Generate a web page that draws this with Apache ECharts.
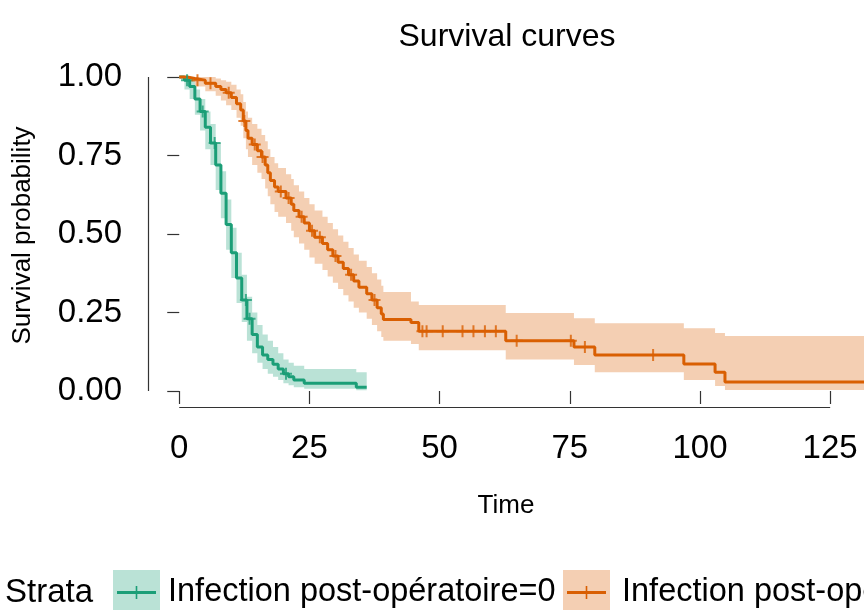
<!DOCTYPE html>
<html>
<head>
<meta charset="utf-8">
<script src="https://cdn.jsdelivr.net/npm/echarts@6/dist/echarts.min.js"></script>
<style>
html,body{margin:0;padding:0;background:#fff;}
#chart{width:864px;height:610px;}
</style>
</head>
<body>
<div id="chart"></div>
<script>
// ---- data ----
const greenTime  = [0,1,2,3,4,5,6,7,8,9,10,11,12,13,14,15,16,17,18,19,20,21,22,24,34,36];
const greenSurv  = [1,0.99,0.97,0.93,0.89,0.84,0.79,0.72,0.63,0.53,0.44,0.36,0.29,0.23,0.18,0.14,0.115,0.10,0.085,0.07,0.055,0.045,0.035,0.025,0.012,0.012];
const greenLower = [1,0.96,0.93,0.88,0.83,0.77,0.72,0.64,0.55,0.45,0.36,0.28,0.22,0.16,0.12,0.09,0.07,0.055,0.045,0.035,0.025,0.018,0.012,0.007,0.002,0.002];
const greenUpper = [1,1,0.99,0.96,0.93,0.89,0.85,0.79,0.70,0.61,0.52,0.44,0.37,0.30,0.25,0.21,0.18,0.16,0.14,0.12,0.10,0.09,0.08,0.07,0.06,0.06];
const greenCensor = [1.5,4.5,6.8,12.8,13.5,20.5];

const orangeTime  = [0,1.5,3,5,7,8,9,10,11,11.8,12.3,12.8,13.2,14,15,15.8,16.5,17,17.5,18.3,19,20.5,21.5,22,23,24,25,26,27.5,28.5,29.5,30.5,31.5,32.5,33.5,34.5,36,37,38,38.8,39.2,44.5,46,62.7,75.8,79.8,96.9,102.9,104.8,132];
const orangeSurv  = [1,0.995,0.99,0.98,0.97,0.96,0.95,0.935,0.915,0.895,0.86,0.83,0.805,0.785,0.765,0.745,0.72,0.695,0.67,0.65,0.635,0.615,0.595,0.575,0.555,0.535,0.51,0.49,0.47,0.45,0.43,0.41,0.39,0.37,0.35,0.33,0.31,0.29,0.265,0.245,0.228,0.218,0.19,0.16,0.14,0.115,0.086,0.06,0.029,0.029];
const orangeLower = [1,0.985,0.97,0.955,0.94,0.925,0.91,0.895,0.87,0.845,0.805,0.77,0.745,0.72,0.695,0.675,0.645,0.62,0.595,0.57,0.555,0.535,0.51,0.49,0.47,0.45,0.425,0.405,0.385,0.365,0.345,0.325,0.305,0.285,0.265,0.25,0.23,0.21,0.19,0.172,0.16,0.15,0.13,0.10,0.083,0.06,0.035,0.016,0.003,0.003];
const orangeUpper = [1,1,1,1,0.995,0.99,0.985,0.975,0.96,0.945,0.92,0.89,0.87,0.85,0.835,0.815,0.795,0.77,0.745,0.725,0.71,0.69,0.675,0.655,0.635,0.615,0.595,0.575,0.555,0.535,0.515,0.495,0.475,0.455,0.435,0.415,0.395,0.375,0.355,0.335,0.315,0.285,0.274,0.248,0.232,0.216,0.20,0.185,0.175,0.175];
const orangeCensor = [3.5,6,9.5,12.5,14.5,16,19.5,21,23.5,25.5,27,30,33,37.5,46.7,47.5,50.6,54.4,56.5,58.7,60.8,64.8,75.2,77.9,91];

const xTicks = [0,25,50,75,100,125];
const yTicks = [0,0.25,0.5,0.75,1];
const strataNames = ['Infection post-opératoire=0','Infection post-opératoire=1'];

const GREEN = '#1B9E77', ORANGE = '#D95F02';
const FONT = '"Liberation Sans", Arial, Helvetica, sans-serif';
const X_MIN = -6, X_MAX = 131.5, Y_MIN = -0.051, Y_MAX = 1.0414;

function pairs(t, v){ return t.map((x,i)=>[x, v[i]]); }
function stepAt(t, v, x){ let k=0; for(let i=0;i<t.length;i++){ if(t[i]<=x) k=i; } return v[k]; }
function censorPts(c, t, v){ return c.map(x=>[x, stepAt(t,v,x)]); }

// confidence band as one stepped polygon, positioned via api.coord
function bandSeries(t, lo, hi, color){
  return {
    type:'custom', silent:true, z:1, clip:true,
    data:[[t[0], lo[0]]], encode:{x:0, y:1},
    renderItem:function(params, api){
      const pts = [];
      for (let i=0;i<t.length-1;i++){
        pts.push(api.coord([t[i], hi[i]]));
        pts.push(api.coord([t[i+1], hi[i]]));
      }
      for (let i=t.length-2;i>=0;i--){
        pts.push(api.coord([t[i+1], lo[i]]));
        pts.push(api.coord([t[i], lo[i]]));
      }
      return {type:'polygon', shape:{points:pts}, style:{fill:color, opacity:0.3}};
    }
  };
}

const plusPath = 'path://M5,0 L5,10 M0,5 L10,5';

function iconSvg(col){
  const svg = `<svg xmlns="http://www.w3.org/2000/svg" width="47" height="45"><rect x="0" y="0" width="47" height="45" fill="${col}" fill-opacity="0.3"/><line x1="4" y1="22.5" x2="43" y2="22.5" stroke="${col}" stroke-width="3"/><line x1="23.5" y1="16" x2="23.5" y2="29" stroke="${col}" stroke-width="1.6"/></svg>`;
  return 'image://data:image/svg+xml;charset=utf-8,' + encodeURIComponent(svg);
}

const chart = echarts.init(document.getElementById('chart'), null, {renderer:'canvas'});
const option = {
  animation:false,
  backgroundColor:'#fff',
  title:[
    {text:'Survival curves', left:502, top:16, textAlign:'center',
     textStyle:{fontFamily:FONT, fontSize:32, fontWeight:'normal', color:'#000'}},
    {text:'Strata', left:0, top:571,
     textStyle:{fontFamily:FONT, fontSize:33, fontWeight:'normal', color:'#000'}}
  ],
  legend:[
    {left:108, top:565, itemWidth:47, itemHeight:45, selectedMode:false,
     data:[{name:strataNames[0], icon:iconSvg(GREEN)}],
     textStyle:{fontFamily:FONT, fontSize:32.5, color:'#000', padding:[0,0,0,3]}},
    {left:558, top:565, itemWidth:47, itemHeight:45, selectedMode:false,
     data:[{name:strataNames[1], icon:iconSvg(ORANGE)}],
     textStyle:{fontFamily:FONT, fontSize:32.5, color:'#000', padding:[0,0,0,7]}}
  ],
  grid:{left:148, top:64, width:716, height:343, containLabel:false},
  xAxis:{type:'value', min:X_MIN, max:X_MAX,
    axisLine:{show:false}, splitLine:{show:false},
    axisTick:{show:true, customValues:xTicks, length:13, lineStyle:{color:'#333', width:1.2}},
    axisLabel:{customValues:xTicks, fontFamily:FONT, fontSize:33, color:'#000', margin:25},
    name:'Time', nameLocation:'middle', nameGap:86,
    nameTextStyle:{fontFamily:FONT, fontSize:26, color:'#000'}},
  yAxis:{type:'value', min:Y_MIN, max:Y_MAX,
    axisLine:{show:false}, splitLine:{show:false},
    axisTick:{show:true, customValues:yTicks, length:12, lineStyle:{color:'#333', width:1.2}},
    axisLabel:{customValues:yTicks, fontFamily:FONT, fontSize:33, color:'#000', margin:26,
      formatter:(v)=>v.toFixed(2)},
    name:'Survival probability', nameLocation:'middle', nameGap:112, nameRotate:90,
    nameTextStyle:{fontFamily:FONT, fontSize:26, color:'#000'}},
  series:[
    bandSeries(greenTime, greenLower, greenUpper, GREEN),
    bandSeries(orangeTime, orangeLower, orangeUpper, ORANGE),
    {type:'line', name:strataNames[0], step:'end', data:pairs(greenTime, greenSurv), symbol:'none',
     lineStyle:{color:GREEN, width:3}, itemStyle:{color:GREEN}, z:3},
    {type:'line', name:strataNames[1], step:'end', data:pairs(orangeTime, orangeSurv), symbol:'none',
     lineStyle:{color:ORANGE, width:3}, itemStyle:{color:ORANGE}, z:3},
    {type:'scatter', data:censorPts(greenCensor, greenTime, greenSurv), symbol:plusPath, symbolSize:12,
     itemStyle:{color:'none', borderColor:GREEN, borderWidth:2}, silent:true, z:4},
    {type:'scatter', data:censorPts(orangeCensor, orangeTime, orangeSurv), symbol:plusPath, symbolSize:12,
     itemStyle:{color:'none', borderColor:ORANGE, borderWidth:2}, silent:true, z:4},
    // axis lines (R base style: span first to last tick)
    {type:'line', data:[], silent:true, clip:false,
     markLine:{silent:true, symbol:['none','none'], animation:false, label:{show:false},
       lineStyle:{color:'#333', width:1.2, type:'solid'},
       data:[
         [{coord:[xTicks[0], Y_MIN]}, {coord:[xTicks[xTicks.length-1], Y_MIN]}],
         [{coord:[X_MIN, yTicks[0]]}, {coord:[X_MIN, yTicks[yTicks.length-1]]}]
       ]}}
  ]
};
chart.setOption(option);
</script>
</body>
</html>
